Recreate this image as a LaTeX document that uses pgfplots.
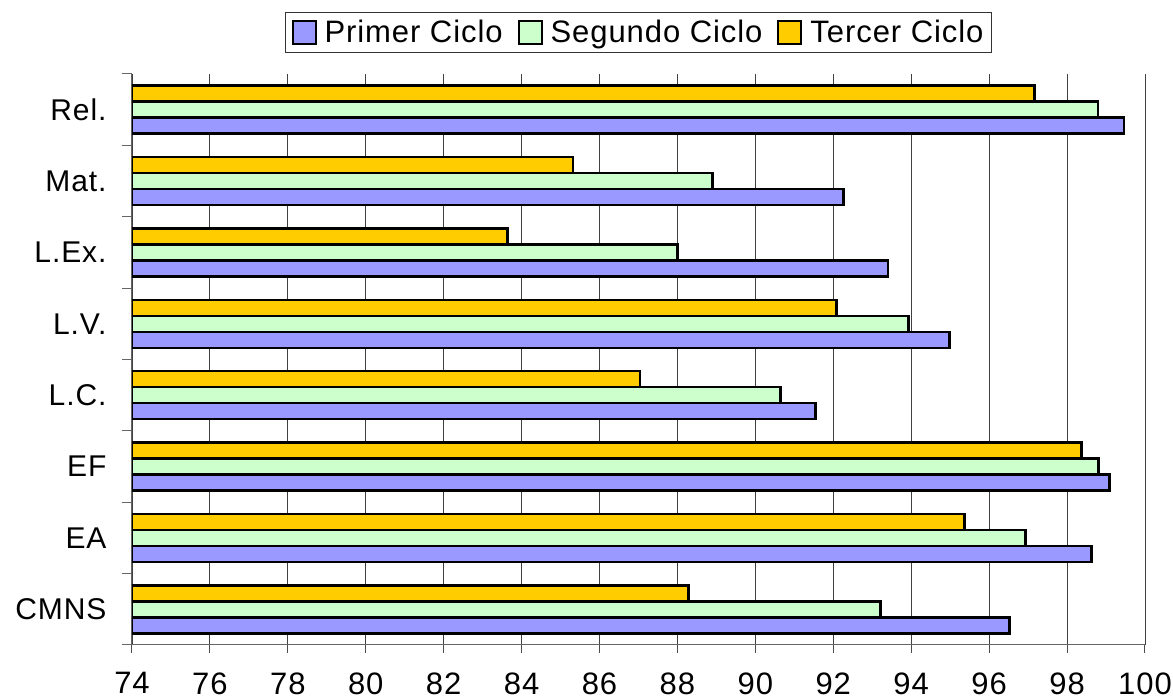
\documentclass[border=0pt]{standalone}
\usepackage{fontspec}
\setmainfont{Liberation Sans}[LetterSpace=3]
\usepackage{pgfplots}
\pgfplotsset{compat=1.18}
\definecolor{cA}{HTML}{9999FF}
\definecolor{cB}{HTML}{CCFFCC}
\definecolor{cC}{HTML}{FFCC00}
\begin{document}
\begin{tikzpicture}
\useasboundingbox (-132pt,-55pt) rectangle (1041pt,645pt);
\begin{axis}[
  at={(0pt,0pt)}, anchor=south west,
  scale only axis, width=1013pt, height=571pt,
  xbar, bar width=0.224,
  xmin=74, xmax=100, xtick={74,76,...,100},
  ymin=-0.5, ymax=7.5,
  ytick={0,...,7},
  yticklabels={CMNS,EA,EF,L.C.,L.V.,L.Ex.,Mat.,Rel.},
  minor ytick={-0.5,0.5,...,7.5},
  axis x line*=bottom, axis y line*=left,
  axis line style={black!60, line width=1pt},
  tick align=outside,
  major tick length=8pt, minor tick length=10pt,
  major y tick style={draw=none},
  minor y tick style={draw=black!60, line width=1pt},
  major x tick style={draw=black!70, line width=1pt},
  xmajorgrids,
  major grid style={draw=black!75, line width=0.9pt},
  /pgf/number format/assume math mode=true,
  xticklabel style={font=\fontsize{31}{36}\selectfont, yshift=-16pt},
  yticklabel style={font=\fontsize{30}{34}\selectfont, xshift=-14pt},
  legend columns=3,
  legend style={at={(0.5,1)}, anchor=south, yshift=21pt, draw=black!80, line width=1pt,
    font=\fontsize{31}{36}\selectfont, inner xsep=6pt, inner ysep=6pt,
    /tikz/every odd column/.append style={column sep=6pt},
    /tikz/every even column/.append style={column sep=13pt}},
  legend image code/.code={\draw[#1, line width=2pt] (0pt,-11.5pt) rectangle (23pt,11.5pt);},
]
\addplot[fill=cA, draw=black, line width=2.5pt, bar shift=-0.224] coordinates
  {(96.52,0) (98.63,1) (99.09,2) (91.54,3) (94.98,4) (93.40,5) (92.26,6) (99.46,7)};
\addlegendentry{Primer Ciclo}
\addplot[fill=cB, draw=black, line width=2.5pt, bar shift=0] coordinates
  {(93.21,0) (96.94,1) (98.81,2) (90.64,3) (93.93,4) (88.00,5) (88.90,6) (98.80,7)};
\addlegendentry{Segundo Ciclo}
\addplot[fill=cC, draw=black, line width=2.5pt, bar shift=0.224] coordinates
  {(88.28,0) (95.37,1) (98.37,2) (87.04,3) (92.08,4) (83.64,5) (85.32,6) (97.17,7)};
\addlegendentry{Tercer Ciclo}
\end{axis}
\end{tikzpicture}
\end{document}
